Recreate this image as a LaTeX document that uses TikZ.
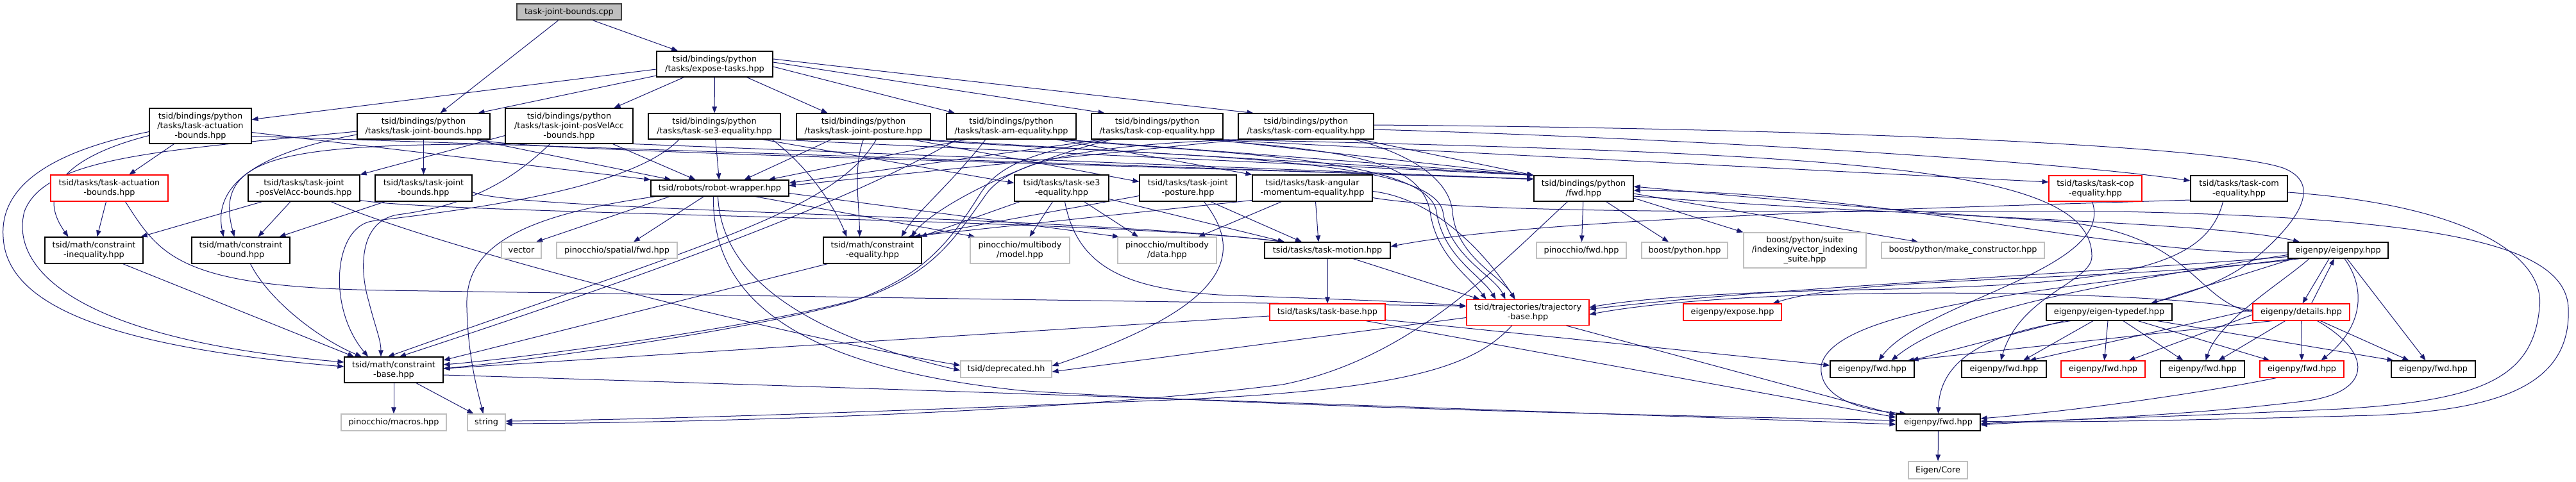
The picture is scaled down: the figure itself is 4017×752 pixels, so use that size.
\documentclass[tikz,border=0pt]{standalone}
\usepackage{fontspec}
\setmainfont{DejaVu Sans}
\usetikzlibrary{arrows.meta,backgrounds}
\definecolor{eblue}{HTML}{191970}
\definecolor{gb}{HTML}{BFBFBF}
\definecolor{rb}{HTML}{FF0000}
\definecolor{db}{HTML}{404040}
\newcommand\nodefont{\fontsize{12.8bp}{15bp}\selectfont}
\begin{document}
\begin{tikzpicture}[x=1bp,y=-1bp,
  nd/.style={draw=black,line width=1.2bp,fill=white,inner sep=0pt,align=center,font=\nodefont,text=black},
  ex/.style={nd,draw=gb},
  tr/.style={nd,draw=rb},
  e/.style={draw=eblue,line width=1bp,-{Triangle[length=10bp,width=7.5bp]}}]
\useasboundingbox (0,0) rectangle (4017,752);
% rank 0-1
\node[nd,fill=gb,draw=db,minimum width=163bp,minimum height=25bp] (root) at (887.5,18.5) {task-joint-bounds.cpp};
\node[nd,minimum width=181bp,minimum height=40bp] (expose) at (1114.5,100) {tsid/bindings/python\\/tasks/expose-tasks.hpp};
% rank 2
\node[nd,minimum width=159bp,minimum height=55bp] (pyActB) at (312.5,196.5) {tsid/bindings/python\\/tasks/task-actuation\\-bounds.hpp};
\node[nd,minimum width=207bp,minimum height=40bp] (pyJB) at (660.5,197) {tsid/bindings/python\\/tasks/task-joint-bounds.hpp};
\node[nd,minimum width=199bp,minimum height=55bp] (pyJPVA) at (887.5,196.5) {tsid/bindings/python\\/tasks/task-joint-posVelAcc\\-bounds.hpp};
\node[nd,minimum width=206bp,minimum height=40bp] (pySE3) at (1114,197) {tsid/bindings/python\\/tasks/task-se3-equality.hpp};
\node[nd,minimum width=209bp,minimum height=40bp] (pyJP) at (1346.5,197) {tsid/bindings/python\\/tasks/task-joint-posture.hpp};
\node[nd,minimum width=202bp,minimum height=40bp] (pyAM) at (1577,197) {tsid/bindings/python\\/tasks/task-am-equality.hpp};
\node[nd,minimum width=205bp,minimum height=40bp] (pyCOP) at (1804.5,197) {tsid/bindings/python\\/tasks/task-cop-equality.hpp};
\node[nd,minimum width=211bp,minimum height=40bp] (pyCOM) at (2036.5,197) {tsid/bindings/python\\/tasks/task-com-equality.hpp};
% rank 3
\node[tr,minimum width=183bp,minimum height=41bp] (tActB) at (170.5,293.5) {tsid/tasks/task-actuation\\-bounds.hpp};
\node[nd,minimum width=174bp,minimum height=41bp] (tJPVA) at (474,293.5) {tsid/tasks/task-joint\\-posVelAcc-bounds.hpp};
\node[nd,minimum width=151bp,minimum height=41bp] (tJB) at (660.5,293.5) {tsid/tasks/task-joint\\-bounds.hpp};
\node[nd,minimum width=215bp,minimum height=25bp] (robotW) at (1122.5,293.5) {tsid/robots/robot-wrapper.hpp};
\node[nd,minimum width=147bp,minimum height=41bp] (tSE3) at (1655.5,293.5) {tsid/tasks/task-se3\\-equality.hpp};
\node[nd,minimum width=151bp,minimum height=41bp] (tJP) at (1852.5,293.5) {tsid/tasks/task-joint\\-posture.hpp};
\node[nd,minimum width=187bp,minimum height=41bp] (tAMom) at (2046.5,293.5) {tsid/tasks/task-angular\\-momentum-equality.hpp};
\node[nd,minimum width=155bp,minimum height=40bp] (pyFwd) at (2469.5,294) {tsid/bindings/python\\/fwd.hpp};
\node[tr,minimum width=145bp,minimum height=40bp] (tCOP) at (3267.5,294) {tsid/tasks/task-cop\\-equality.hpp};
\node[nd,minimum width=151bp,minimum height=40bp] (tCOM) at (3491.5,294) {tsid/tasks/task-com\\-equality.hpp};
% rank 4
\node[nd,minimum width=153bp,minimum height=41bp] (cIneq) at (146.5,390.5) {tsid/math/constraint\\-inequality.hpp};
\node[nd,minimum width=153bp,minimum height=41bp] (cBound) at (375.5,390.5) {tsid/math/constraint\\-bound.hpp};
\node[ex,minimum width=62bp,minimum height=25bp] (vector) at (813,390.5) {vector};
\node[ex,minimum width=188bp,minimum height=25bp] (pinSpatial) at (962,390.5) {pinocchio/spatial/fwd.hpp};
\node[nd,minimum width=153bp,minimum height=41bp] (cEq) at (1360.5,390.5) {tsid/math/constraint\\-equality.hpp};
\node[ex,minimum width=155bp,minimum height=41bp] (pinModel) at (1590.5,390.5) {pinocchio/multibody\\/model.hpp};
\node[ex,minimum width=154bp,minimum height=41bp] (pinData) at (1820,390.5) {pinocchio/multibody\\/data.hpp};
\node[nd,minimum width=196bp,minimum height=25bp] (tMotion) at (2070,390.5) {tsid/tasks/task-motion.hpp};
\node[ex,minimum width=140bp,minimum height=25bp] (pinFwd) at (2466,390.5) {pinocchio/fwd.hpp};
\node[ex,minimum width=134bp,minimum height=25bp] (boostPy) at (2627,390.5) {boost/python.hpp};
\node[ex,minimum width=191bp,minimum height=55bp] (boostSuite) at (2814.5,390.5) {boost/python/suite\\/indexing/vector\_indexing\\\_suite.hpp};
\node[ex,minimum width=254bp,minimum height=25bp] (makeCtor) at (3061,390.5) {boost/python/make\_constructor.hpp};
\node[nd,minimum width=156bp,minimum height=25bp] (eigenpy) at (3646,390.5) {eigenpy/eigenpy.hpp};
% rank 5
\node[tr,minimum width=180bp,minimum height=26bp] (tBase) at (2070,487) {tsid/tasks/task-base.hpp};
\node[tr,minimum width=191bp,minimum height=40bp] (traj) at (2382.5,487.5) {tsid/trajectories/trajectory\\-base.hpp};
\node[tr,minimum width=153bp,minimum height=26bp] (eigExpose) at (2701.5,487) {eigenpy/expose.hpp};
\node[nd,minimum width=196bp,minimum height=26bp] (eigTypedef) at (3289,487) {eigenpy/eigen-typedef.hpp};
\node[tr,minimum width=151bp,minimum height=26bp] (details) at (3588.5,487) {eigenpy/details.hpp};
% rank 6
\node[nd,minimum width=154bp,minimum height=40bp] (cBase) at (614,577) {tsid/math/constraint\\-base.hpp};
\node[ex,minimum width=142bp,minimum height=26bp] (deprecated) at (1569,576) {tsid/deprecated.hh};
\node[nd,minimum width=131bp,minimum height=26bp] (fwd1) at (2919.5,576) {eigenpy/fwd.hpp};
\node[nd,minimum width=132bp,minimum height=26bp] (fwd2) at (3125,576) {eigenpy/fwd.hpp};
\node[tr,minimum width=131bp,minimum height=26bp] (fwd3) at (3279.5,576) {eigenpy/fwd.hpp};
\node[nd,minimum width=131bp,minimum height=26bp] (fwd4) at (3434.5,576) {eigenpy/fwd.hpp};
\node[tr,minimum width=131bp,minimum height=26bp] (fwd5) at (3589.5,576) {eigenpy/fwd.hpp};
\node[nd,minimum width=131bp,minimum height=26bp] (fwd6) at (3794.5,576) {eigenpy/fwd.hpp};
% rank 7-8
\node[ex,minimum width=164bp,minimum height=26bp] (pinMacros) at (614,659) {pinocchio/macros.hpp};
\node[ex,minimum width=59bp,minimum height=26bp] (string) at (758.5,659) {string};
\node[nd,minimum width=131bp,minimum height=26bp] (fwdMain) at (3022.5,659) {eigenpy/fwd.hpp};
\node[ex,minimum width=92bp,minimum height=27bp] (eigenCore) at (3022,733.5) {Eigen/Core};

\begin{scope}[on background layer]
% root, expose
\draw[e] (root) -- (pyJB);
\draw[e] (root) -- (expose);
\draw[e] ([yshift=-8bp]expose.west) -- ([yshift=10bp]pyActB.east);
\draw[e] ([yshift=-18bp]expose.west) -- ([xshift=85bp]pyJB.north);
\draw[e] ([xshift=-48bp]expose.south) -- ([xshift=70bp]pyJPVA.north);
\draw[e] (expose) -- (pySE3);
\draw[e] ([xshift=50bp]expose.south) -- ([xshift=-56bp]pyJP.north);
\draw[e] ([yshift=-4bp]expose.east) -- ([xshift=-88bp]pyAM.north);
\draw[e] ([yshift=3bp]expose.east) -- ([xshift=-82bp]pyCOP.north);
\draw[e] ([yshift=8bp]expose.east) -- ([xshift=-82bp]pyCOM.north);
% pyActB
\draw[e] (pyActB) -- (tActB);
\draw[e] ([yshift=-15bp]pyActB.west) .. controls (120,240) and (50,290) .. ([xshift=-40bp]cIneq.north);
\draw[e] ([yshift=-9bp]pyActB.west) .. controls (60,240) and (0,300) .. (5,370) .. controls (10,470) and (150,540) .. ([yshift=5bp]cBase.west);
\draw[e] ([yshift=-10bp]pyActB.east) -- (robotW.north west);
\draw[e] ([yshift=-16bp]pyActB.east) -- ([yshift=-6bp]pyFwd.north west);
% pyJB
\draw[e] (pyJB) -- (tJB);
\draw[e] ([yshift=-13bp]pyJB.west) .. controls (420,235) and (330,280) .. ([xshift=-27bp]cBound.north);
\draw[e] ([yshift=-8bp]pyJB.west) .. controls (250,235) and (70,245) .. (38,330) .. controls (15,420) and (120,530) .. ([yshift=12bp]cBase.west);
\draw[e] ([xshift=78bp]pyJB.south) -- ([xshift=-76bp]robotW.north);
\draw[e] ([xshift=85bp]pyJB.south) .. controls (800,235) and (1500,250) .. ([yshift=-6bp]pyFwd.north west);
% pyJPVA
\draw[e] ([yshift=-15bp]pyJPVA.west) -- (tJPVA.north east);
\draw[e] ([xshift=68bp]pyJPVA.south) -- ([xshift=-38bp]robotW.north);
\draw[e] ([xshift=-88bp]pyJPVA.south) .. controls (450,225) and (330,240) .. ([xshift=-10bp]cBound.north);
\draw[e] ([xshift=-30bp]pyJPVA.south) .. controls (790,290) and (720,322) .. (620,335) .. controls (560,345) and (560,420) .. (575,470) .. controls (585,510) and (594,530) .. ([xshift=-20bp]cBase.north);
\draw[e] (pyJPVA.south east) -- ([yshift=-6bp]pyFwd.north west);
% pySE3
\draw[e] ([xshift=75bp]pySE3.south) -- ([yshift=8bp]tSE3.west);
\draw[e] (pySE3) -- (robotW);
\draw[e] ([xshift=-55bp]pySE3.south) .. controls (980,300) and (700,330) .. (580,345) .. controls (520,355) and (510,480) .. ([xshift=-40bp]cBase.north);
\draw[e] ([xshift=90bp]pySE3.south) .. controls (1260,260) and (1300,320) .. ([xshift=-40bp]cEq.north);
\draw[e] ([xshift=95bp]pySE3.south) -- (pyFwd.north west);
% pyJP
\draw[e] ([xshift=75bp]pyJP.south) -- ([yshift=10bp]tJP.west);
\draw[e] ([xshift=-50bp]pyJP.south) -- ([xshift=38bp]robotW.north);
\draw[e] (pyJP.south) .. controls (1330,260) and (1340,320) .. ([xshift=-20bp]cEq.north);
\draw[e] ([xshift=20bp]pyJP.south) .. controls (1300,330) and (1100,380) .. ([xshift=-9bp]cBase.north);
\draw[e] ([xshift=80bp]pyJP.south) .. controls (1800,245) and (2230,240) .. (2250,330) .. controls (2260,400) and (2330,430) .. ([xshift=-35bp]traj.north);
\draw[e] ([xshift=90bp]pyJP.south) -- (pyFwd.north west);
% pyAM
\draw[e] ([xshift=70bp]pyAM.south) -- (tAMom.north west);
\draw[e] ([xshift=-70bp]pyAM.south) -- ([xshift=76bp]robotW.north);
\draw[e] ([xshift=-40bp]pyAM.south) .. controls (1480,290) and (1430,330) .. ([xshift=45bp]cEq.north);
\draw[e] ([xshift=-85bp]pyAM.south) .. controls (1350,300) and (1100,400) .. ([xshift=9bp]cBase.north);
\draw[e] ([xshift=75bp]pyAM.south) .. controls (1900,240) and (2225,245) .. (2240,330) .. controls (2250,400) and (2310,430) .. ([xshift=-50bp]traj.north);
\draw[e] ([xshift=80bp]pyAM.south) -- (pyFwd.north west);
% pyCOP
\draw[e] ([xshift=80bp]pyCOP.south) -- ([yshift=10bp]tCOP.west);
\draw[e] ([xshift=-85bp]pyCOP.south) -- ([yshift=8bp]robotW.east);
\draw[e] ([xshift=-70bp]pyCOP.south) .. controls (1600,250) and (1460,320) .. ([xshift=60bp]cEq.north);
\draw[e] ([xshift=-75bp]pyCOP.south) .. controls (1620,235) and (1560,255) .. (1530,300) .. controls (1480,380) and (1440,430) .. (1330,470) .. controls (1150,520) and (800,565) .. ([yshift=2bp]cBase.east);
\draw[e] ([xshift=70bp]pyCOP.south) .. controls (2100,235) and (2215,250) .. (2230,330) .. controls (2240,400) and (2290,430) .. ([xshift=-65bp]traj.north);
\draw[e] ([xshift=85bp]pyCOP.south) -- (pyFwd.north west);
\draw[e] ([xshift=95bp]pyCOP.south) .. controls (2900,240) and (3262,260) .. (3262,400) .. controls (3262,440) and (3150,460) .. ([xshift=-5bp]fwd2.north);
% pyCOM
\draw[e] ([yshift=-5bp]pyCOM.east) .. controls (2600,215) and (3200,250) .. ([yshift=12bp]tCOM.west);
\draw[e] ([xshift=-100bp]pyCOM.south) -- ([yshift=4bp]robotW.east);
\draw[e] ([xshift=-95bp]pyCOM.south) .. controls (1700,225) and (1580,250) .. (1540,300) .. controls (1490,370) and (1460,420) .. (1360,460) .. controls (1200,510) and (800,560) .. ([yshift=8bp]cBase.east);
\draw[e] ([xshift=75bp]pyCOM.south) .. controls (2200,240) and (2260,280) .. (2265,330) .. controls (2270,400) and (2340,430) .. ([xshift=-20bp]traj.north);
\draw[e] ([xshift=85bp]pyCOM.south) -- (pyFwd.north west);
\draw[e] ([yshift=2bp]pyCOM.east) .. controls (2800,200) and (3450,225) .. (3560,262) .. controls (3620,285) and (3590,340) .. (3520,400) .. controls (3470,440) and (3420,455) .. ([xshift=65bp]eigTypedef.north);
% rank 3 tasks
\draw[e] ([xshift=-5bp]tActB.south) -- ([xshift=5bp]cIneq.north);
\draw[e] ([xshift=25bp]tActB.south) .. controls (250,400) and (280,448) .. (600,453) -- ([yshift=10bp]traj.west);
\draw[e] ([xshift=-65bp]tJPVA.south) -- ([xshift=-4bp]cIneq.north east);
\draw[e] ([xshift=-21bp]tJPVA.south) -- ([xshift=27bp]cBound.north);
\draw[e] ([xshift=42bp]tJPVA.south) .. controls (680,385) and (1200,520) .. ([yshift=6bp]deprecated.west);
\draw[e] ([yshift=-19bp]tJPVA.east) .. controls (700,335) and (1700,340) .. ([xshift=-67bp]tMotion.north);
\draw[e] ([xshift=-60bp]tJB.south) -- ([xshift=60bp]cBound.north);
\draw[e] ([yshift=-6bp]tJB.east) .. controls (800,330) and (1650,335) .. ([xshift=-67bp]tMotion.north);
% robot wrapper
\draw[e] ([xshift=-78bp]robotW.south) -- ([xshift=23bp]vector.north);
\draw[e] ([xshift=-25bp]robotW.south) -- ([xshift=26bp]pinSpatial.north);
\draw[e] ([xshift=-100bp]robotW.south) .. controls (780,340) and (725,400) .. (728,480) .. controls (730,560) and (745,610) .. ([xshift=-5bp]string.north);
\draw[e] ([xshift=55bp]robotW.south) -- ([xshift=-70bp]pinModel.north);
\draw[e] ([yshift=-8bp]robotW.east) -- ([xshift=-75bp]pinData.north);
\draw[e] ([xshift=-3bp]robotW.south) .. controls (1125,430) and (1250,520) .. ([yshift=-2bp]deprecated.west);
\draw[e] ([xshift=-10bp]robotW.south) .. controls (1110,470) and (1250,575) .. (1600,610) .. controls (2100,640) and (2700,650) .. ([yshift=3bp]fwdMain.west);
% tSE3
\draw[e] ([xshift=-65bp]tSE3.south) -- ([xshift=-2bp]cEq.north east);
\draw[e] ([xshift=-14bp]tSE3.south) -- ([xshift=15bp]pinModel.north);
\draw[e] ([xshift=35bp]tSE3.south) -- ([xshift=-45bp]pinData.north);
\draw[e] ([yshift=-17bp]tSE3.east) -- ([xshift=-67bp]tMotion.north);
\draw[e] ([xshift=5bp]tSE3.south) .. controls (1680,420) and (1760,450) .. (1900,460) .. controls (2050,466) and (2200,470) .. ([yshift=10bp]traj.west);
% tJP
\draw[e] ([yshift=-12bp]tJP.west) -- ([xshift=-12bp]cEq.north east);
\draw[e] ([xshift=35bp]tJP.south) -- ([xshift=-40bp]tMotion.north);
\draw[e] ([xshift=25bp]tJP.south) .. controls (1945,400) and (1910,480) .. ([yshift=5bp]deprecated.east);
% tAMom
\draw[e] ([yshift=-19bp]tAMom.west) -- ([xshift=-22bp]cEq.north east);
\draw[e] ([xshift=-48bp]tAMom.south) -- ([xshift=49bp]pinData.north);
\draw[e] ([xshift=5bp]tAMom.south) -- ([xshift=-14bp]tMotion.north);
\draw[e] ([yshift=-5bp]tAMom.east) .. controls (2240,310) and (2320,400) .. ([xshift=-20bp]traj.north);
\draw[e] ([yshift=-15bp]tAMom.east) .. controls (2300,335) and (2800,330) .. (3300,330) .. controls (3800,340) and (4000,380) .. (4005,480) .. controls (4010,600) and (3900,640) .. (3700,648) .. controls (3400,656) and (3200,660) .. ([yshift=2bp]fwdMain.east);
% tCOP, tCOM
\draw[e] ([xshift=-5bp]tCOP.south) .. controls (3300,420) and (3000,470) .. ([xshift=10bp]fwd1.north);
\draw[e] ([yshift=-18bp]tCOM.west) .. controls (3000,325) and (2400,340) .. ([yshift=6bp]tMotion.east);
\draw[e] ([xshift=-25bp]tCOM.south) .. controls (3440,420) and (3300,445) .. (2900,452) .. controls (2700,456) and (2560,465) .. ([yshift=8bp]traj.east);
\draw[e] ([yshift=-6bp]tCOM.east) .. controls (3850,320) and (3970,400) .. (3960,480) .. controls (3950,590) and (3870,625) .. (3650,638) .. controls (3400,650) and (3200,655) .. ([yshift=-2bp]fwdMain.east);
% task motion, base, trajectory
\draw[e] (tMotion) -- (tBase);
\draw[e] ([xshift=40bp]tMotion.south) -- ([xshift=-75bp]traj.north);
\draw[e] ([yshift=-6bp]tBase.west) -- ([yshift=2bp]cBase.east);
\draw[e] ([yshift=-12bp]tBase.east) -- ([yshift=6bp]fwd1.west);
\draw[e] ([xshift=60bp]tBase.south) -- ([yshift=8bp]fwdMain.west);
\draw[e] ([yshift=-8bp]traj.west) -- ([yshift=-4bp]deprecated.east);
\draw[e] ([xshift=-25bp]traj.south) .. controls (2300,570) and (2200,610) .. (1800,625) .. controls (1300,645) and (1000,655) .. ([yshift=2bp]string.east);
\draw[e] ([xshift=60bp]traj.south) -- ([yshift=12bp]fwdMain.west);
% constraints
\draw[e] ([xshift=45bp]cIneq.south) -- ([xshift=-62bp]cBase.north);
\draw[e] ([xshift=15bp]cBound.south) .. controls (420,470) and (500,530) .. ([xshift=-50bp]cBase.north);
\draw[e] ([xshift=-70bp]cEq.south) -- ([yshift=15bp]cBase.east);
\draw[e] (cBase) -- (pinMacros);
\draw[e] ([xshift=35bp]cBase.south) -- ([xshift=-20bp]string.north);
\draw[e] ([yshift=-8bp]cBase.east) .. controls (1200,600) and (2500,645) .. ([yshift=-3bp]fwdMain.west);
% python fwd
\draw[e] (pyFwd) -- (pinFwd);
\draw[e] ([xshift=35bp]pyFwd.south) -- ([xshift=-25bp]boostPy.north);
\draw[e] ([yshift=-15bp]pyFwd.east) -- (boostSuite.north west);
\draw[e] ([yshift=-8bp]pyFwd.east) -- ([xshift=-70bp]makeCtor.north);
\draw[e] ([xshift=-25bp]pyFwd.south) .. controls (2330,420) and (2200,560) .. (2000,600) .. controls (1600,650) and (1000,660) .. ([yshift=-2bp]string.east);
\draw[e] ([yshift=-12bp]pyFwd.east) .. controls (3000,340) and (3450,345) .. ([xshift=-60bp]eigenpy.north);
% eigenpy
\draw[e] ([xshift=-14bp]eigenpy.south) -- ([xshift=2bp]details.north);
\draw[e] ([xshift=16bp]details.north) -- ([xshift=-6bp]eigenpy.south);
\draw[e] ([xshift=-45bp]eigenpy.south) .. controls (3560,440) and (3460,500) .. ([xshift=5bp]fwd4.north);
\draw[e] ([xshift=10bp]eigenpy.south) .. controls (3690,450) and (3685,510) .. ([xshift=30bp]fwd5.north);
\draw[e] ([xshift=14bp]eigenpy.south) -- ([xshift=-12bp]fwd6.north);
\draw[e] ([xshift=-60bp]eigenpy.south) .. controls (3300,440) and (2900,430) .. ([xshift=63bp]eigExpose.north);
\draw[e] ([xshift=-70bp]eigenpy.south) -- ([xshift=65bp]eigTypedef.north);
\draw[e] ([yshift=-4bp]eigenpy.west) .. controls (3300,400) and (2950,300) .. ([yshift=-3bp]pyFwd.east);
\draw[e] ([yshift=-10bp]eigenpy.west) .. controls (3200,430) and (2750,450) .. ([yshift=5bp]traj.east);
\draw[e] ([yshift=-7bp]eigenpy.west) .. controls (3300,440) and (3050,480) .. ([xshift=30bp]fwd1.north);
\draw[e] ([xshift=-70bp]eigenpy.south) .. controls (3200,450) and (2860,480) .. (2840,570) .. controls (2835,620) and (2900,640) .. ([xshift=-50bp]fwdMain.north);
% details
\draw[e] ([yshift=4bp]details.west) -- ([xshift=40bp]fwd2.north);
\draw[e] ([yshift=-4bp]details.west) -- ([xshift=40bp]fwd3.north);
\draw[e] ([xshift=-25bp]details.south) -- ([xshift=25bp]fwd4.north);
\draw[e] (details) -- (fwd5);
\draw[e] ([xshift=30bp]details.south) -- ([xshift=-38bp]fwd6.north);
\draw[e] ([xshift=-45bp]details.south) -- ([xshift=55bp]fwd1.north);
\draw[e] ([xshift=25bp]details.south) .. controls (3700,550) and (3700,610) .. (3600,625) .. controls (3400,650) and (3200,655) .. ([yshift=-4bp]fwdMain.east);
\draw[e] (details.west) .. controls (3420,470) and (3420,360) .. (3200,345) .. controls (2900,325) and (2650,300) .. ([yshift=3bp]pyFwd.east);
\draw[e] ([yshift=2bp]details.west) .. controls (3430,455) and (2750,440) .. ([yshift=-3bp]traj.east);
% eigen-typedef
\draw[e] ([xshift=-70bp]eigTypedef.south) -- ([xshift=62bp]fwd1.north);
\draw[e] ([xshift=-25bp]eigTypedef.south) -- ([xshift=30bp]fwd2.north);
\draw[e] ([xshift=-2bp]eigTypedef.south) -- ([xshift=2bp]fwd3.north);
\draw[e] ([xshift=22bp]eigTypedef.south) -- ([xshift=-30bp]fwd4.north);
\draw[e] ([xshift=45bp]eigTypedef.south) -- ([xshift=-50bp]fwd5.north);
\draw[e] ([xshift=75bp]eigTypedef.south) -- ([xshift=-62bp]fwd6.north);
\draw[e] ([xshift=-60bp]eigTypedef.south) .. controls (3100,520) and (3025,560) .. (fwdMain.north);
\draw[e] ([xshift=-40bp]fwd5.south) .. controls (3450,610) and (3250,640) .. ([yshift=6bp]fwdMain.east);
\draw[e] (fwdMain) -- (eigenCore);
\end{scope}
\end{tikzpicture}
\end{document}
